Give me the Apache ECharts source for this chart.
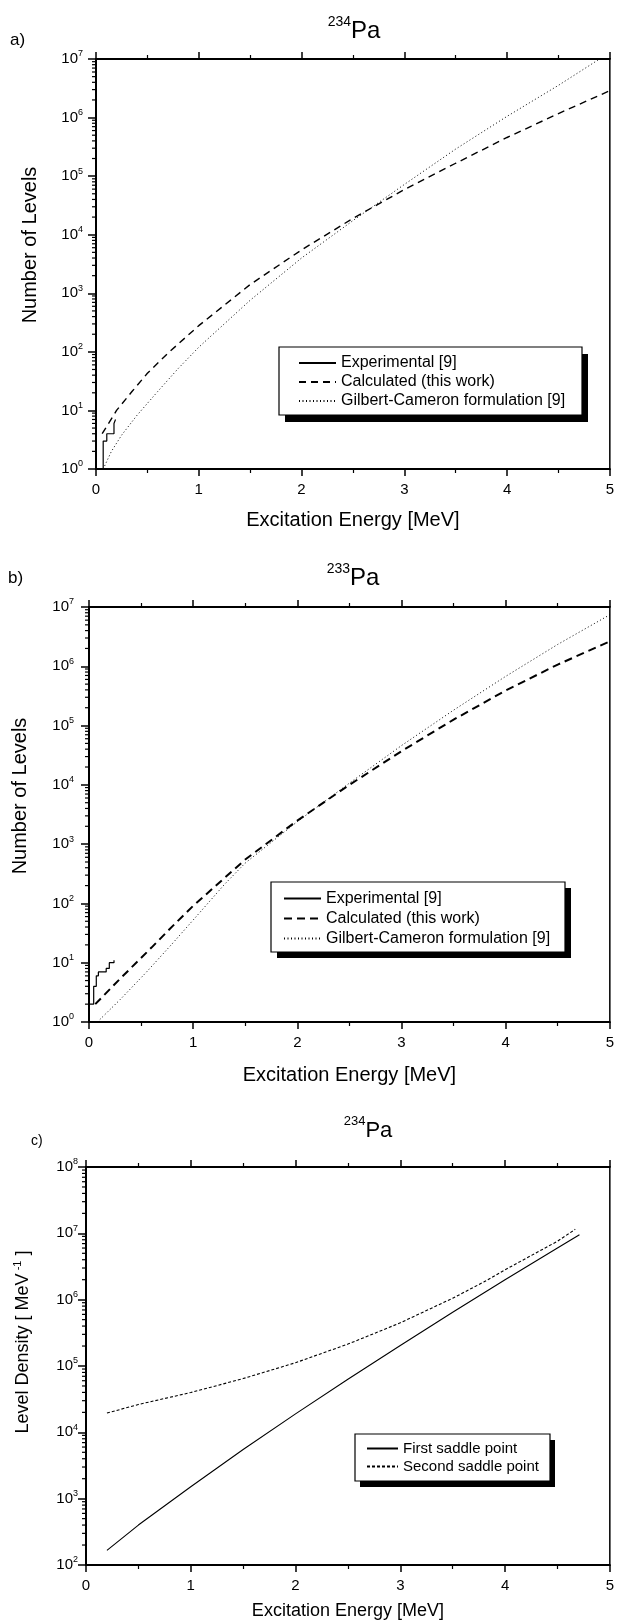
<!DOCTYPE html>
<html>
<head>
<meta charset="utf-8">
<script src="https://cdn.jsdelivr.net/npm/echarts@6/dist/echarts.min.js"></script>
<style>
  html, body { margin: 0; padding: 0; background: #fff; }
  #main { width: 617px; height: 1621px; }
</style>
</head>
<body>
<div id="main"></div>
<script>
var FONT = "'Liberation Sans', Arial, Helvetica, sans-serif";

// a) 234Pa - cumulative number of levels
var expA_E  = [0, 0.07, 0.105, 0.175, 0.19];
var expA_N  = [1, 3, 4, 6, 7];
var calcA_E = [0.06, 0.2, 0.35, 0.5, 0.7, 1.0, 1.5, 2.0, 2.5, 3.0, 3.5, 4.0, 4.5, 5.0];
var calcA_N = [4, 10, 21, 43, 95, 280, 1410, 5500, 19000, 59000, 166000, 457000, 1170000, 2880000];
var gcA_E   = [0.07, 0.15, 0.25, 0.4, 0.6, 0.8, 1.0, 1.5, 2.0, 2.5, 3.0, 3.5, 4.0, 4.5, 4.9];
var gcA_N   = [1, 2, 3.8, 8.3, 21, 52, 120, 760, 4000, 17400, 72000, 290000, 1050000, 3550000, 10000000];

// b) 233Pa - cumulative number of levels
var expB_E  = [0, 0.045, 0.07, 0.09, 0.165, 0.195, 0.24];
var expB_N  = [2, 4, 6, 7, 8, 10, 11];
var calcB_E = [0.06, 0.3, 0.6, 0.8, 1.0, 1.5, 2.0, 2.5, 3.0, 3.5, 4.0, 4.5, 5.0];
var calcB_N = [2, 5.4, 18, 41, 91, 550, 2500, 10000, 37000, 126000, 390000, 1070000, 2630000];
var gcB_E   = [0.08, 0.3, 0.55, 0.8, 1.05, 1.3, 1.5, 2.0, 2.5, 3.0, 3.5, 4.0, 4.5, 5.0];
var gcB_N   = [1, 2.4, 6.9, 21, 66, 209, 480, 2400, 10700, 46000, 182000, 676000, 2340000, 7400000];

// c) 234Pa - level density at the saddle points
var firstE   = [0.2, 0.5, 1, 1.5, 2, 2.5, 3, 3.5, 4, 4.5, 4.71];
var firstRho = [166, 400, 1510, 5500, 19000, 63000, 204000, 646000, 2000000, 6000000, 9500000];
var secondE   = [0.2, 0.5, 1, 1.5, 2, 2.5, 3, 3.5, 3.8, 4, 4.5, 4.67];
var secondRho = [19500, 26300, 39800, 64600, 112000, 214000, 447000, 1050000, 1860000, 2820000, 7600000, 11500000];

// axis ranges (decades as powers of ten)
var xMin = 0, xMax = 5;
var decadesAB = [0, 7];
var decadesC = [2, 8];

function pairs(xs, ys) {
  return xs.map(function (x, i) { return [x, ys[i]]; });
}

function logMinor(lo, hi) {
  var t = [];
  for (var e = lo; e < hi; e++) {
    for (var k = 2; k <= 9; k++) t.push([0, k * Math.pow(10, e)]);
  }
  return t;
}

var chart = echarts.init(document.getElementById("main"));

var grids = [
  { left: 96, top: 59, width: 517, height: 410 },
  { left: 89, top: 607, width: 524, height: 415 },
  { left: 86, top: 1167, width: 527, height: 398 }
];

// legend frames: box + solid drop shadow
var frames = [
  { x: 279, y: 347, w: 303, h: 68, dx: 6, dy: 7 },
  { x: 271, y: 882, w: 294, h: 70, dx: 6, dy: 6 },
  { x: 355, y: 1434, w: 195, h: 47, dx: 5, dy: 6 }
];

function xAxisFor(gi, isTop, nameGap, nameSize) {
  return {
    type: "value",
    gridIndex: gi,
    position: isTop ? "top" : "bottom",
    min: xMin,
    max: xMax,
    interval: 1,
    axisLine: { show: true, onZero: false, lineStyle: { color: "#000", width: 2 } },
    axisTick: { show: true, length: 7, lineStyle: { color: "#000", width: 1.5 } },
    minorTick: { show: true, splitNumber: 2, length: 4, lineStyle: { color: "#000", width: 1.2 } },
    splitLine: { show: false },
    axisLabel: {
      show: !isTop,
      margin: 13,
      color: "#000",
      fontSize: 15,
      fontFamily: FONT
    },
    name: isTop ? "" : "Excitation Energy [MeV]",
    nameLocation: "middle",
    nameGap: nameGap,
    nameTextStyle: { color: "#000", fontSize: nameSize, fontFamily: FONT }
  };
}

function yAxisFor(gi, dec, margin) {
  return {
    type: "log",
    logBase: 10,
    gridIndex: gi,
    min: Math.pow(10, dec[0]),
    max: Math.pow(10, dec[1]),
    splitNumber: dec[1] - dec[0],
    axisLine: { show: true, lineStyle: { color: "#000", width: 2 } },
    axisTick: { show: true, length: 8, lineStyle: { color: "#000", width: 1.5 } },
    splitLine: { show: false },
    axisLabel: {
      margin: margin,
      color: "#000",
      fontFamily: FONT,
      formatter: function (v) {
        return "{b|10}{s|" + Math.round(Math.log10(v)) + "}";
      },
      rich: {
        b: { fontSize: 15, lineHeight: 15, verticalAlign: "bottom", fontFamily: FONT, color: "#000" },
        s: { fontSize: 9, lineHeight: 9, verticalAlign: "bottom", padding: [0, 0, 8, 0], fontFamily: FONT, color: "#000" }
      }
    }
  };
}

function minorTicks(gi, dec) {
  return {
    type: "custom",
    xAxisIndex: gi * 2,
    yAxisIndex: gi,
    silent: true,
    clip: false,
    data: logMinor(dec[0], dec[1]),
    renderItem: function (params, api) {
      var p = api.coord([api.value(0), api.value(1)]);
      return {
        type: "line",
        shape: { x1: p[0] - 4, y1: p[1], x2: p[0], y2: p[1] },
        style: { stroke: "#000", lineWidth: 1.2 }
      };
    }
  };
}

function line(name, gi, data, width, type, extra) {
  var s = {
    name: name,
    type: "line",
    xAxisIndex: gi * 2,
    yAxisIndex: gi,
    data: data,
    symbol: "none",
    animation: false,
    itemStyle: { color: "#000" },
    lineStyle: { color: "#000", width: width, type: type }
  };
  for (var k in extra) s[k] = extra[k];
  return s;
}

var namesAB = ["Experimental [9]", "Calculated (this work)", "Gilbert-Cameron formulation [9]"];

function legendBox(names, left, top, padding, itemWidth, fontSize, lineHeight) {
  return {
    data: names,
    orient: "vertical",
    align: "left",
    left: left,
    top: top,
    z: 20,
    padding: padding,
    itemWidth: itemWidth,
    itemHeight: 12,
    itemGap: 1,
    selectedMode: false,
    itemStyle: { color: "rgba(0,0,0,0)", borderColor: "rgba(0,0,0,0)", borderWidth: 0, opacity: 0 },
    textStyle: { color: "#000", fontSize: fontSize, lineHeight: lineHeight, fontFamily: FONT }
  };
}

function frameShapes(f) {
  return [
    { type: "rect", z: 15, shape: { x: f.x + f.dx, y: f.y + f.dy, width: f.w, height: f.h }, style: { fill: "#000" } },
    { type: "rect", z: 16, shape: { x: f.x, y: f.y, width: f.w, height: f.h }, style: { fill: "#fff", stroke: "#000", lineWidth: 1.2 } }
  ];
}

function heading(x, y, mass, size, supSize) {
  return {
    type: "text",
    x: x,
    y: y,
    style: {
      text: "{s|" + mass + "}{p|Pa}",
      align: "center",
      verticalAlign: "middle",
      rich: {
        p: { fontSize: size, lineHeight: size, verticalAlign: "bottom", fontFamily: FONT, fill: "#000" },
        s: { fontSize: supSize, lineHeight: supSize, verticalAlign: "bottom", padding: [0, 0, 14, 0], fontFamily: FONT, fill: "#000" }
      }
    }
  };
}

function plainText(x, y, text, size, rotate) {
  return {
    type: "text",
    x: x,
    y: y,
    rotation: rotate ? Math.PI / 2 : 0,
    style: {
      text: text,
      align: rotate ? "center" : "left",
      verticalAlign: "middle",
      fontSize: size,
      fontFamily: FONT,
      fill: "#000",
      rich: {
        s: { fontSize: 11, padding: [0, 0, 9, 0], verticalAlign: "bottom", fontFamily: FONT, fill: "#000" },
        n: { fontSize: size, verticalAlign: "bottom", fontFamily: FONT, fill: "#000" }
      }
    }
  };
}

var graphics = [
  plainText(10, 40, "a)", 17, false),
  plainText(8, 578, "b)", 17, false),
  plainText(31, 1141, "c)", 14, false),
  heading(354, 31, "234", 24, 14),
  heading(353, 578, "233", 24, 14),
  heading(368, 1131, "234", 22, 13),
  plainText(30, 245, "Number of Levels", 20, true),
  plainText(20, 796, "Number of Levels", 20, true),
  plainText(22, 1342, "{n|Level Density [ MeV}{s| -1}{n| ]}", 18, true)
];
frames.forEach(function (f) { graphics = graphics.concat(frameShapes(f)); });

var option = {
  animation: false,
  backgroundColor: "#fff",
  grid: grids.map(function (g) {
    return {
      left: g.left, top: g.top, width: g.width, height: g.height,
      show: true, borderColor: "#000", borderWidth: 1.5, backgroundColor: "transparent"
    };
  }),
  xAxis: [
    xAxisFor(0, false, 41, 20), xAxisFor(0, true, 0, 20),
    xAxisFor(1, false, 43, 20), xAxisFor(1, true, 0, 20),
    xAxisFor(2, false, 37, 18), xAxisFor(2, true, 0, 18)
  ],
  yAxis: [
    yAxisFor(0, decadesAB, 13),
    yAxisFor(1, decadesAB, 15),
    yAxisFor(2, decadesC, 8)
  ],
  legend: [
    legendBox(namesAB, 279, 347, [7, 18, 6, 19], 37, 16, 18),
    legendBox([
      namesAB[0],
      { name: namesAB[1], lineStyle: { width: 2, type: [8, 5] } },
      namesAB[2]
    ], 271, 882, [7, 18, 6, 12], 37, 16, 19),
    legendBox(["First saddle point", "Second saddle point"], 355, 1434, [6, 12, 6, 11], 31, 15, 17)
  ],
  graphic: { elements: graphics },
  series: [
    line(namesAB[0], 0, pairs(expA_E, expA_N), 1.2, "solid", { step: "end" }),
    line(namesAB[1], 0, pairs(calcA_E, calcA_N), 1.4, [7, 5]),
    line(namesAB[2], 0, pairs(gcA_E, gcA_N), 1, [1, 2.5]),
    line(namesAB[0], 1, pairs(expB_E, expB_N), 1.2, "solid", { step: "end" }),
    line(namesAB[1], 1, pairs(calcB_E, calcB_N), 2, [8, 5]),
    line(namesAB[2], 1, pairs(gcB_E, gcB_N), 1, [1, 2.5]),
    line("First saddle point", 2, pairs(firstE, firstRho), 1.1, "solid"),
    line("Second saddle point", 2, pairs(secondE, secondRho), 1.1, [3, 2]),
    minorTicks(0, decadesAB),
    minorTicks(1, decadesAB),
    minorTicks(2, decadesC)
  ]
};

chart.setOption(option);
</script>
</body>
</html>
